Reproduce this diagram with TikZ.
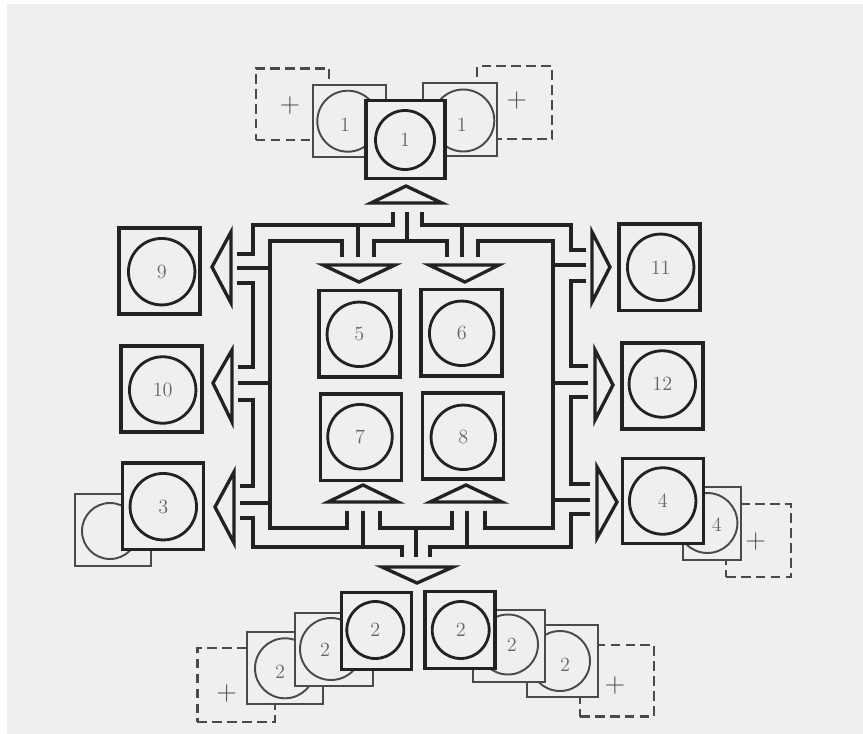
\documentclass[tikz,border=0pt]{standalone}
\usepackage{xcolor}
\usepackage{tikz}
\definecolor{ink}{HTML}{222222}
\definecolor{faint}{HTML}{4A4A4A}
\definecolor{numgray}{HTML}{666666}
\definecolor{paper}{HTML}{EFEFF1}

\begin{document}
\begin{tikzpicture}[
    x=0.02cm, y=-0.02cm,
    cellbox/.style={rectangle, draw=ink, line width=2pt, fill=paper, inner sep=0pt, minimum width=1.62cm, minimum height=1.73cm},
    disc/.style={circle, draw=ink, line width=1.6pt, inner sep=0pt, minimum size=1.33cm, text=numgray, font=\fontsize{11.5}{13}\selectfont},
    ghost/.style={rectangle, draw=faint, line width=1.1pt, fill=paper, inner sep=0pt},
    ghostdisc/.style={circle, draw=faint, line width=1.1pt, inner sep=0pt, minimum size=1.2cm},
    spare/.style={rectangle, draw=faint, line width=1.2pt, fill=paper, dash pattern=on 5.5pt off 3pt, inner sep=0pt},
    num/.style={text=numgray, inner sep=0pt, font=\fontsize{11.5}{13}\selectfont},
    plus/.style={text=faint, inner sep=0pt, font=\fontsize{16}{18}\selectfont},
    wire/.style={draw=ink, line width=2pt},
    arrowtri/.style={draw=ink, line width=1.9pt, line join=miter}
]
\useasboundingbox (0,0) rectangle (863,734);
\fill[white] (0,0) rectangle (863,734);
\fill[paper] (7,4) rectangle (863,734);

\node[spare, minimum width=1.47cm, minimum height=1.43cm] (sp1l) at (292.5,104.2) {};
\node[plus] (p1l) at (290,105) {+};
\node[spare, minimum width=1.50cm, minimum height=1.46cm] (sp1r) at (514.8,102.7) {};
\node[plus] (p1r) at (516.7,100) {+};
\node[spare, minimum width=1.30cm, minimum height=1.46cm] (sp4) at (758.4,540.8) {};
\node[plus] (p4) at (755.7,541) {+};
\node[spare, minimum width=1.55cm, minimum height=1.47cm] (sp2l) at (236.2,685) {};
\node[plus] (p2l) at (226.7,693.3) {+};
\node[spare, minimum width=1.48cm, minimum height=1.43cm] (sp2r) at (617,680.8) {};
\node[plus] (p2r) at (615,685) {+};

\node[ghost, minimum width=1.46cm, minimum height=1.44cm] (g1l) at (349.2,121.2) {};
\node[ghostdisc, minimum size=1.22cm] (gc1l) at (347.8,121.2) {};
\node[num] (n1l) at (345,125) {1};
\node[ghost, minimum width=1.49cm, minimum height=1.45cm] (g1r) at (460,119.7) {};
\node[ghostdisc, minimum size=1.24cm] (gc1r) at (463.3,120.5) {};
\node[num] (n1r) at (461.7,125) {1};
\node[ghost, minimum width=1.52cm, minimum height=1.44cm] (g3) at (113,530) {};
\node[ghostdisc, minimum size=1.12cm] (gc3) at (110,531) {};
\node[ghost, minimum width=1.16cm, minimum height=1.46cm] (g4) at (712,523.7) {};
\node[ghostdisc] (gc4) at (707.4,523) {};
\node[num] (n4) at (716.7,525) {4};
\node[ghost, minimum width=1.53cm, minimum height=1.43cm] (g2l2) at (285,667.8) {};
\node[ghostdisc] (gc2l2) at (285,668.3) {};
\node[num] (n2l2) at (280,671.7) {2};
\node[ghost, minimum width=1.55cm, minimum height=1.45cm] (g2l1) at (333.8,649.7) {};
\node[ghostdisc, minimum size=1.24cm] (gc2l1) at (331,649) {};
\node[num] (n2l1) at (325,650) {2};
\node[ghost, minimum width=1.43cm, minimum height=1.45cm] (g2r2) at (562.5,661.2) {};
\node[ghostdisc] (gc2r2) at (560,661) {};
\node[num] (n2r2) at (565,665) {2};
\node[ghost, minimum width=1.43cm, minimum height=1.45cm] (g2r1) at (509.2,646.2) {};
\node[ghostdisc] (gc2r1) at (508,644.5) {};
\node[num] (n2r1) at (511.7,645) {2};

\node[cellbox, minimum width=1.58cm, minimum height=1.56cm] (b1) at (405.3,139.5) {};
\node[disc, minimum size=1.18cm] (c1) at (405,140) {1};
\node[cellbox, minimum width=1.40cm, minimum height=1.54cm] (b2l) at (376.7,631) {};
\node[disc, minimum size=1.14cm] (c2l) at (375.3,630) {2};
\node[cellbox, minimum width=1.40cm, minimum height=1.54cm] (b2r) at (460,630) {};
\node[disc, minimum size=1.14cm] (c2r) at (460.7,630) {2};
\node[cellbox] (b9) at (159.7,271) {};
\node[disc] (c9) at (161.7,271.7) {9};
\node[cellbox] (b10) at (161.3,389) {};
\node[disc] (c10) at (162.7,390) {10};
\node[cellbox] (b3) at (162.8,506.3) {};
\node[disc] (c3) at (163.3,506.7) {3};
\node[cellbox] (b11) at (659.7,267.3) {};
\node[disc] (c11) at (660.7,267.3) {11};
\node[cellbox] (b12) at (662.5,386) {};
\node[disc] (c12) at (662.3,384) {12};
\node[cellbox, minimum height=1.70cm] (b4) at (663,500.8) {};
\node[disc] (c4) at (662.7,501) {4};
\node[cellbox] (b5) at (359.7,333.7) {};
\node[disc, minimum size=1.29cm] (c5) at (359.3,334.3) {5};
\node[cellbox] (b6) at (461.7,332.7) {};
\node[disc, minimum size=1.29cm] (c6) at (461.7,333.3) {6};
\node[cellbox] (b7) at (360.8,437.3) {};
\node[disc, minimum size=1.29cm] (c7) at (360,436.7) {7};
\node[cellbox] (b8) at (462.8,436) {};
\node[disc, minimum size=1.29cm] (c8) at (463.3,437.3) {8};

\draw[arrowtri] (371,203) -- (406,186) -- (442,203) -- cycle;
\draw[arrowtri] (323,265) -- (395,265) -- (359,282) -- cycle;
\draw[arrowtri] (429,265) -- (499,265) -- (465,282) -- cycle;
\draw[arrowtri] (328,502) -- (363,485) -- (398,502) -- cycle;
\draw[arrowtri] (430,502) -- (466,485) -- (502,502) -- cycle;
\draw[arrowtri] (382,567) -- (453,567) -- (417,583) -- cycle;
\draw[arrowtri] (231,232) -- (212,267) -- (231,303) -- cycle;
\draw[arrowtri] (232,350) -- (213,383) -- (232,422) -- cycle;
\draw[arrowtri] (234,472) -- (215,507) -- (234,543) -- cycle;
\draw[arrowtri] (592,232) -- (610,267) -- (592,302) -- cycle;
\draw[arrowtri] (595,350) -- (613,385) -- (595,420) -- cycle;
\draw[arrowtri] (597,467) -- (617,502) -- (597,538) -- cycle;

\coordinate (tT-l) at (393,212); \coordinate (tT-c) at (407,212); \coordinate (tT-r) at (422,212);
\coordinate (t5-l) at (342,257); \coordinate (t5-c) at (358,257); \coordinate (t5-r) at (374,257);
\coordinate (t6-l) at (447,257); \coordinate (t6-c) at (462,257); \coordinate (t6-r) at (478,257);
\coordinate (t7-l) at (347,511); \coordinate (t7-c) at (363,511); \coordinate (t7-r) at (380,511);
\coordinate (t8-l) at (452,511); \coordinate (t8-c) at (467,511); \coordinate (t8-r) at (485,511);
\coordinate (tB-l) at (402,557); \coordinate (tB-c) at (416,557); \coordinate (tB-r) at (430,557);
\coordinate (t9-t) at (237,254); \coordinate (t9-c) at (237,268); \coordinate (t9-b) at (237,283);
\coordinate (t10-t) at (238,367); \coordinate (t10-c) at (238,383); \coordinate (t10-b) at (238,400);
\coordinate (t3-t) at (240,486); \coordinate (t3-c) at (240,503); \coordinate (t3-b) at (240,518);
\coordinate (t11-t) at (586,250); \coordinate (t11-c) at (586,265); \coordinate (t11-b) at (586,281);
\coordinate (t12-t) at (588,366); \coordinate (t12-c) at (588,383); \coordinate (t12-b) at (588,397);
\coordinate (t4-t) at (590,484); \coordinate (t4-c) at (590,500); \coordinate (t4-b) at (590,514);
\coordinate (oTop) at (0,225); \coordinate (mTop) at (0,241);
\coordinate (oBot) at (0,547); \coordinate (iBot) at (0,528);
\coordinate (oLeft) at (253,0); \coordinate (iLeft) at (270,0);
\coordinate (oRight) at (571,0); \coordinate (iRight) at (553,0);

\draw[wire] (tT-l) |- (oLeft |- oTop) |- (t9-t);
\draw[wire] (t5-c) -- (t5-c |- oTop);
\draw[wire] (tT-r) |- (oRight |- oTop) |- (t11-t);
\draw[wire] (t6-c) -- (t6-c |- oTop);
\draw[wire] (t9-b) -| (oLeft |- t10-t) -- (t10-t);
\draw[wire] (t10-b) -| (oLeft |- t3-t) -- (t3-t);
\draw[wire] (t3-b) -| (oLeft |- oBot) -| (tB-l);
\draw[wire] (t7-c) -- (t7-c |- oBot);
\draw[wire] (t11-b) -| (oRight |- t12-t) -- (t12-t);
\draw[wire] (t12-b) -| (oRight |- t4-t) -- (t4-t);
\draw[wire] (t4-b) -| (oRight |- oBot) -| (tB-r);
\draw[wire] (t8-c) -- (t8-c |- oBot);

\draw[wire] (tT-c) -- (tT-c |- mTop);
\draw[wire] (t5-r) |- (tT-c |- mTop) -| (t6-l);
\draw[wire] (tB-c) -- (tB-c |- iBot);
\draw[wire] (t7-r) |- (tB-c |- iBot) -| (t8-l);

\draw[wire] (t5-l) |- (iLeft |- mTop) |- (t7-l |- iBot) -- (t7-l);
\draw[wire] (t9-c) -- (iLeft |- t9-c);
\draw[wire] (t10-c) -- (iLeft |- t10-c);
\draw[wire] (t3-c) -- (iLeft |- t3-c);
\draw[wire] (t6-r) |- (iRight |- mTop) |- (t8-r |- iBot) -- (t8-r);
\draw[wire] (t11-c) -- (iRight |- t11-c);
\draw[wire] (t12-c) -- (iRight |- t12-c);
\draw[wire] (t4-c) -- (iRight |- t4-c);
\end{tikzpicture}
\end{document}
